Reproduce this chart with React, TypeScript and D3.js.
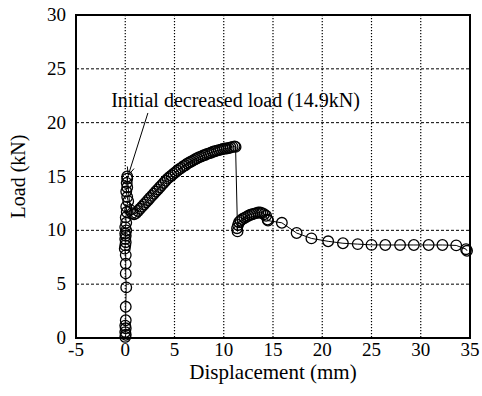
import * as d3 from 'd3';
import React from 'react';

// axis ticks
const xTicks = [-5, 0, 5, 10, 15, 20, 25, 30, 35];
const yTicks = [0, 5, 10, 15, 20, 25, 30];

// measured load-displacement record (mm, kN)
const displacement = [
  0.0, 0.05, 0.0, 0.05, 0.0, 0.05, 0.05, 0.1, 0.05, 0.05, 0.05, -0.05, 0.0, 0.05, 0.0, 0.05, 0.0, 0.1, 0.0, 0.1,
  0.05, 0.15, 0.1, 0.3, 0.2, 0.1, 0.2, 0.15, 0.2, 0.2,
  0.5, 0.7, 0.9, 1.1, 1.3, 1.5, 1.7, 1.9, 2.1, 2.3, 2.5, 2.7, 2.9, 3.1, 3.3, 3.5, 3.7, 3.9, 4.1, 4.3,
  4.5, 4.7, 4.9, 5.1, 5.3, 5.5, 5.7, 5.9, 6.1, 6.3, 6.5, 6.7, 6.9, 7.1, 7.3, 7.5, 7.7, 7.9, 8.1, 8.3,
  8.5, 8.7, 8.9, 9.1, 9.3, 9.5, 9.7, 9.9, 10.1, 10.3, 10.5, 10.7, 10.9, 11.1, 11.2,
  11.4, 11.35, 11.45, 11.55, 11.7, 11.9, 12.1, 12.3, 12.5, 12.7, 12.9, 13.1, 13.3, 13.5, 13.7, 13.9, 14.1, 14.3, 14.45, 14.5,
  15.9, 17.4, 18.9, 20.6, 22.1, 23.6, 25.0, 26.4, 27.9, 29.3, 30.8, 32.2, 33.6, 34.6, 34.7,
];
const load = [
  0.1, 0.3, 0.55, 0.9, 1.15, 1.65, 2.9, 4.7, 6.0, 6.9, 7.7, 8.3, 8.6, 8.9, 9.2, 9.5, 9.7, 10.0, 10.3, 10.7,
  11.2, 11.7, 12.2, 12.7, 13.1, 13.6, 14.0, 14.4, 14.8, 15.0,
  11.9, 11.6, 11.5, 11.6, 11.8, 12.0, 12.2, 12.4, 12.6, 12.8, 13.0, 13.2, 13.4, 13.6, 13.8, 14.0, 14.2, 14.4, 14.6, 14.8,
  14.95, 15.1, 15.25, 15.4, 15.55, 15.7, 15.8, 15.95, 16.05, 16.2, 16.3, 16.4, 16.5, 16.6, 16.7, 16.8, 16.85, 16.95, 17.0, 17.1,
  17.15, 17.2, 17.3, 17.35, 17.4, 17.45, 17.5, 17.55, 17.6, 17.6, 17.65, 17.7, 17.75, 17.8, 17.75,
  9.9, 10.2, 10.5, 10.75, 10.9, 11.05, 11.15, 11.25, 11.35, 11.45, 11.5, 11.55, 11.6, 11.65, 11.65, 11.6, 11.5, 11.35, 11.0, 10.9,
  10.7, 9.75, 9.25, 8.98, 8.8, 8.72, 8.65, 8.64, 8.64, 8.64, 8.64, 8.64, 8.6, 8.25, 8.1,
];

// annotation (data units)
const noteText = 'Initial decreased load (14.9kN)';
const noteCenter = [11.2, 21.5];
const arrowFrom = [2.3, 20.9];
const arrowTo = [0.3, 15.1];

const width = 482;
const height = 396;
const margin = { top: 15, right: 12, bottom: 58, left: 76 };
const font = '"Liberation Serif", "Times New Roman", serif';

const App = () => {
  const x = d3.scaleLinear().domain([-5, 35]).range([margin.left, width - margin.right]);
  const y = d3.scaleLinear().domain([0, 30]).range([height - margin.bottom, margin.top]);

  const points = displacement.map((d, i) => [d, load[i]] as [number, number]);
  const line = d3.line<[number, number]>().x((d) => x(d[0])).y((d) => y(d[1]));

  // arrowhead
  const ax1 = x(arrowFrom[0]), ay1 = y(arrowFrom[1]);
  const ax2 = x(arrowTo[0]), ay2 = y(arrowTo[1]);
  const ang = Math.atan2(ay2 - ay1, ax2 - ax1);
  const head = 9, spread = 0.4;
  const h1 = [ax2 - head * Math.cos(ang - spread), ay2 - head * Math.sin(ang - spread)];
  const h2 = [ax2 - head * Math.cos(ang + spread), ay2 - head * Math.sin(ang + spread)];

  const [x0, x1] = x.range();
  const [y0, y1] = y.range();

  return (
    <svg width={width} height={height} style={{ position: 'absolute', left: 0, top: 0, background: '#fff' }}>
      {/* grid */}
      {xTicks.slice(1, -1).map((t) => (
        <line key={'gx' + t} x1={x(t)} x2={x(t)} y1={y1} y2={y0} stroke="#000" strokeWidth={1.2} strokeDasharray="1.2,1.8" />
      ))}
      {yTicks.slice(1, -1).map((t) => (
        <line key={'gy' + t} x1={x0} x2={x1} y1={y(t)} y2={y(t)} stroke="#000" strokeWidth={1} strokeDasharray="3,2" />
      ))}

      {/* data */}
      <path d={line(points) || ''} fill="none" stroke="#000" strokeWidth={1} />
      {points.map((p, i) => (
        <circle key={i} cx={x(p[0])} cy={y(p[1])} r={5.3} fill="none" stroke="#000" strokeWidth={1.3} />
      ))}

      {/* frame */}
      <rect x={x0} y={y1} width={x1 - x0} height={y0 - y1} fill="none" stroke="#000" strokeWidth={2} />

      {/* tick labels */}
      {xTicks.map((t) => (
        <text key={'tx' + t} x={x(t)} y={y0 + 18} textAnchor="middle" fontFamily={font} fontSize={19}>{t}</text>
      ))}
      {yTicks.map((t) => (
        <text key={'ty' + t} x={x0 - 10} y={y(t) + 6} textAnchor="end" fontFamily={font} fontSize={19}>{t}</text>
      ))}

      {/* axis titles */}
      <text x={(x0 + x1) / 2} y={y0 + 41} textAnchor="middle" fontFamily={font} fontSize={21}>Displacement (mm)</text>
      <text transform={`translate(25,${(y0 + y1) / 2}) rotate(-90)`} textAnchor="middle" fontFamily={font} fontSize={20}>Load (kN)</text>

      {/* annotation */}
      <text x={x(noteCenter[0])} y={y(noteCenter[1])} textAnchor="middle" fontFamily={font} fontSize={20}>{noteText}</text>
      <line x1={ax1} y1={ay1} x2={ax2} y2={ay2} stroke="#000" strokeWidth={1} />
      <polyline points={`${h1[0]},${h1[1]} ${ax2},${ay2} ${h2[0]},${h2[1]}`} fill="none" stroke="#000" strokeWidth={1} />
    </svg>
  );
};

export default App;
